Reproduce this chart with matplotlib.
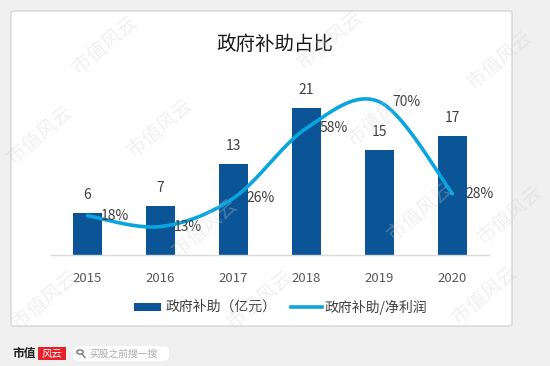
import numpy as np
import matplotlib
matplotlib.use("Agg")
import matplotlib.pyplot as plt
from matplotlib.patches import FancyBboxPatch, Rectangle, Circle
from matplotlib.lines import Line2D

plt.rcParams['font.family'] = ['Noto Sans CJK SC', 'DejaVu Sans']

years = ['2015', '2016', '2017', '2018', '2019', '2020']
subsidy = [6, 7, 13, 21, 15, 17]
ratio = [0.18, 0.13, 0.26, 0.58, 0.70, 0.28]
ratio_labels = ['18%', '13%', '26%', '58%', '70%', '28%']
title = '政府补助占比'
legend_bar = '政府补助（亿元）'
legend_line = '政府补助/净利润'

W, H = 550, 366
fig = plt.figure(figsize=(W / 100, H / 100), dpi=100)
fig.patch.set_facecolor('#f0f0f0')

def fx(px):
    return px / W

def fy(py):
    return 1 - py / H

# white panel
panel = FancyBboxPatch((fx(11), fy(326)), fx(501), (326 - 11) / H,
                       boxstyle="round,pad=0,rounding_size=0.005",
                       transform=fig.transFigure, facecolor='white',
                       edgecolor='#d6d6d6', linewidth=1.0, zorder=-5)
fig.patches.append(panel)

BAR = '#0b5597'
LINE = '#0aa5de'
TXT = '#404040'

ax = fig.add_axes([fx(51), fy(255), fx(489 - 51), (255 - 80) / H])
ax.set_facecolor('none')
x = np.arange(len(years))
ax.bar(x, subsidy, width=0.4, color=BAR, zorder=2)
ax.set_xlim(-0.5, 5.5)
ax.set_ylim(0, 25)
ax.set_xticks(x)
ax.set_xticklabels(years, color='#595959', fontsize=9.5)
ax.tick_params(axis='x', length=0, pad=12)
ax.set_yticks([])
for s in ['top', 'right', 'left']:
    ax.spines[s].set_visible(False)
ax.spines['bottom'].set_color('#d9d9d9')
ax.spines['bottom'].set_linewidth(1)

for xi, v in zip(x, subsidy):
    ax.annotate(str(v), (xi, v), xytext=(0, 13), textcoords='offset points',
                ha='center', va='center', fontsize=10, color=TXT)

ax2 = ax.twinx()
ax2.set_ylim(0, 0.8)
ax2.set_yticks([])
for s in ['top', 'right', 'left', 'bottom']:
    ax2.spines[s].set_visible(False)

# smooth curve (Bezier through points, in display space)
fig.canvas.draw()
pts = ax2.transData.transform(np.column_stack([x, ratio]))
n = len(pts)
curve = []
for i in range(n - 1):
    p0 = pts[i - 1] if i > 0 else pts[i]
    p1 = pts[i]
    p2 = pts[i + 1]
    p3 = pts[i + 2] if i + 2 < n else pts[i + 1]
    c1 = p1 + (p2 - p0) / 6.0
    c2 = p2 - (p3 - p1) / 6.0
    t = np.linspace(0, 1, 40)[:, None]
    seg = ((1 - t) ** 3) * p1 + 3 * ((1 - t) ** 2) * t * c1 + 3 * (1 - t) * t ** 2 * c2 + t ** 3 * p2
    curve.append(seg if i == 0 else seg[1:])
curve = np.vstack(curve)
cdata = ax2.transData.inverted().transform(curve)
ax2.plot(cdata[:, 0], cdata[:, 1], color=LINE, lw=2.6, solid_capstyle='round', zorder=3)

for xi, v, lab in zip(x, ratio, ratio_labels):
    ax2.annotate(lab, (xi, v), xytext=(9.5, 0), textcoords='offset points',
                 ha='left', va='center', fontsize=10, color=TXT)

# title
fig.text(fx(275), fy(44), title, ha='center', va='center', fontsize=14, color='#1a1a1a')

# legend
fig.patches.append(Rectangle((fx(134), fy(311)), fx(27), 8 / H, transform=fig.transFigure,
                             facecolor=BAR, edgecolor='none'))
fig.text(fx(166), fy(307), legend_bar, ha='left', va='center', fontsize=10, color=TXT)
fig.lines.append(Line2D([fx(291), fx(322)], [fy(307), fy(307)], transform=fig.transFigure,
                        color=LINE, lw=2.6))
fig.text(fx(325), fy(307), legend_line, ha='left', va='center', fontsize=10, color=TXT)

# watermarks
wm = [(105, 45), (330, 40), (500, 60), (160, 128), (205, 228), (380, 117), (420, 212),
      (45, 300), (260, 300), (485, 295), (40, 135), (510, 215)]
for (wx, wy) in wm:
    fig.text(fx(wx), fy(wy), '市值风云', rotation=40, ha='center', va='center',
             fontsize=14, color='#cccccc', alpha=0.3, zorder=10)

# bottom logo
fig.text(fx(12), fy(353), '市值', ha='left', va='center', fontsize=8.5, fontweight='bold', color='#222222')
fig.patches.append(Rectangle((fx(38), fy(360)), fx(28), 13 / H, transform=fig.transFigure,
                             facecolor='#e8202a', edgecolor='none'))
fig.text(fx(52), fy(353.5), '风云', ha='center', va='center', fontsize=7.5, style='italic',
         color='white')
pill = FancyBboxPatch((fx(73), fy(361)), fx(96), 15 / H,
                      boxstyle="round,pad=0,rounding_size=0.013",
                      transform=fig.transFigure, facecolor='white', edgecolor='none')
fig.patches.append(pill)
fig.patches.append(Circle((fx(80), fy(352)), 3.2 / W, transform=fig.transFigure,
                          facecolor='none', edgecolor='#777777', lw=1))
fig.lines.append(Line2D([fx(82.3), fx(85)], [fy(354.5), fy(357.5)], transform=fig.transFigure,
                        color='#777777', lw=1))
fig.text(fx(89), fy(353.5), '买股之前搜一搜', ha='left', va='center', fontsize=7, color='#aaaaaa')

fig.savefig('out.png', dpi=100, facecolor=fig.get_facecolor())
